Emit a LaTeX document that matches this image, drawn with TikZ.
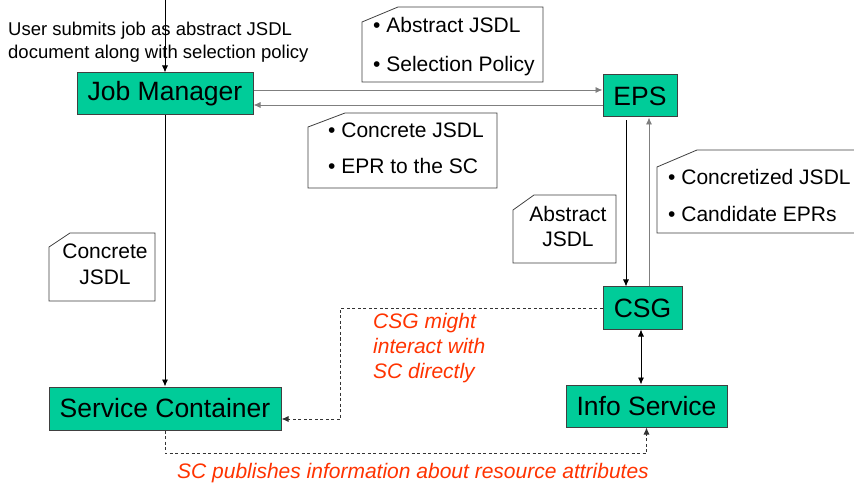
\documentclass[tikz,border=0pt]{standalone}
\usepackage{fontspec}
\setmainfont{Liberation Sans}
\usetikzlibrary{arrows.meta}

\definecolor{boxgreen}{HTML}{00CC99}
\definecolor{boxline}{HTML}{404040}
\definecolor{notered}{HTML}{FF3300}
\definecolor{wire}{HTML}{7F7F7F}

\tikzset{
  compbox/.style={draw=boxline, line width=1pt, fill=boxgreen, inner sep=0pt,
    font=\fontsize{26.5}{30}\selectfont, text=black},
  notebox/.style={draw=boxline, line width=0.8pt, fill=white},
  notetext/.style={font=\fontsize{21}{25}\selectfont, inner sep=0pt, anchor=base west},
  flow/.style={line width=0.9pt, -{Latex[length=7pt,width=6pt]}},
  twoway/.style={line width=0.9pt, {Latex[length=7pt,width=6pt]}-{Latex[length=7pt,width=6pt]}},
  maybe/.style={line width=0.9pt, draw=black!80, dash pattern=on 3pt off 2.5pt,
    -{Latex[length=7pt,width=6pt]}},
  remark/.style={font=\fontsize{21}{25}\selectfont\itshape, text=notered, inner sep=0pt}
}

\begin{document}
\begin{tikzpicture}[x=1pt,y=-1pt]
  \clip (0,0) rectangle (854,486);
  \fill[white] (0,0) rectangle (854,486);

  % components
  \node[compbox, minimum width=176pt, minimum height=42pt] (jm)   at (165,94)    {Job Manager};
  \node[compbox, minimum width=74pt,  minimum height=42pt] (eps)  at (640,96)    {EPS};
  \node[compbox, minimum width=79pt,  minimum height=42pt] (csg)  at (642.5,308) {CSG};
  \node[compbox, minimum width=232pt, minimum height=43pt] (sc)   at (165,408.5) {Service Container};
  \node[compbox, minimum width=161pt, minimum height=42pt] (info) at (646.5,406) {Info Service};

  % job submission by the user (multi-line nodes: base = last line)
  \coordinate (user) at (165,0);
  \node[font=\fontsize{18.5}{23}\selectfont, align=left, anchor=base west, inner sep=0pt]
    (usertext) at (8,59) {User submits job as abstract JSDL\\document along with selection policy};
  \draw[flow] (user) -- (jm.north);

  % Job Manager <-> EPS
  \draw[flow, draw=wire] ([yshift=4pt]jm.east) -- ([yshift=4pt]jm.east -| eps.west);
  \draw[flow, draw=wire] ([yshift=-11pt]jm.east -| eps.west) -- ([yshift=-11pt]jm.east);

  % EPS <-> CSG
  \draw[flow] ([xshift=-14pt,yshift=-3pt]eps.south) -- ([xshift=-14pt]eps.south |- csg.north);
  \draw[flow, draw=wire] ([xshift=9pt]eps.south |- csg.north) -- ([xshift=9pt]eps.south);

  % CSG <-> Info Service
  \draw[twoway] ([xshift=-1.5pt]csg.south) -- ([xshift=-1.5pt]csg.south |- info.north);

  % Job Manager -> Service Container
  \draw[flow] (jm.south) -- (sc.north);

  % optional and background interactions
  \draw[maybe] (csg.west) -- ++(-262,0) |- ([yshift=-10.5pt]sc.east);
  \draw[maybe] (sc.south) -- ++(0,23) -| (info.south);

  % message notes
  \draw[notebox] (362,22) -- (398,7) -- (543,7) -- (543,82) -- (362,82) -- cycle;
  \node[notetext] (n1a) at (373,33) {\textbullet\ Abstract JSDL};
  \node[notetext] (n1b) at (373,72) {\textbullet\ Selection Policy};

  \draw[notebox] (308,127) -- (345,113) -- (497,113) -- (497,188) -- (308,188) -- cycle;
  \node[notetext] (n2a) at (328,138) {\textbullet\ Concrete JSDL};
  \node[notetext] (n2b) at (328,174) {\textbullet\ EPR to the SC};

  \draw[notebox] (657,167) -- (697,150) -- (870,150) -- (870,233) -- (657,233) -- cycle;
  \node[notetext] (n3a) at (668,185) {\textbullet\ Concretized JSDL};
  \node[notetext] (n3b) at (668,222) {\textbullet\ Candidate EPRs};

  \draw[notebox] (513,210) -- (534,195) -- (616,195) -- (616,263) -- (513,263) -- cycle;
  \node[font=\fontsize{21}{25}\selectfont, align=center, anchor=base, inner sep=0pt]
    (n4) at (568,247) {Abstract\\JSDL};

  \draw[notebox] (49,247) -- (70,233) -- (155,233) -- (155,301) -- (49,301) -- cycle;
  \node[font=\fontsize{21}{26}\selectfont, align=center, anchor=base, inner sep=0pt]
    (n5) at (105,285) {Concrete\\JSDL};

  % remarks
  \node[remark, align=left, anchor=base west] (r1) at (373,378)
    {CSG might\\interact with\\SC directly};
  \node[remark, anchor=base west] (r2) at (177,478)
    {SC publishes information about resource attributes};
\end{tikzpicture}
\end{document}
